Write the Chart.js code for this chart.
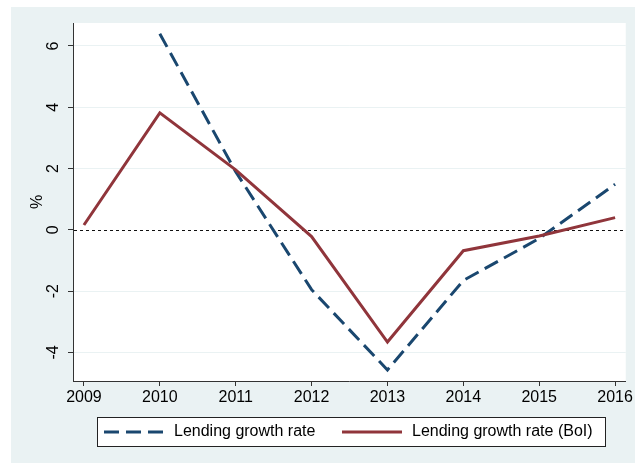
<!DOCTYPE html>
<html>
<head>
<meta charset="utf-8">
<script src="https://cdn.jsdelivr.net/npm/chart.js@4.4.0/dist/chart.umd.min.js"></script>
<style>
  html, body { margin: 0; padding: 0; background: #fff; }
</style>
</head>
<body>
<canvas id="chartLending" width="635" height="463"></canvas>
<script>
var anos = [2009, 2010, 2011, 2012, 2013, 2014, 2015, 2016];
var lendingGrowth = [null, 6.4, 1.9, -1.95, -4.57, -1.65, -0.28, 1.49];
var lendingGrowthBoI = [0.16, 3.82, 1.96, -0.22, -3.66, -0.68, -0.2, 0.4];
var nomesSeries = ['Lending growth rate', 'Lending growth rate (BoI)'];
var tituloY = '%';
var linhaReferencia = 0;

var fonte = '"Liberation Sans", Arial, sans-serif';
var azul = '#1a476f';
var vermelho = '#90353b';

function pontos(valores) {
    var lista = [];
    for (let i = 0; i < anos.length; i++) {
        lista.push({ x: anos[i], y: valores[i] });
    }
    return lista;
}

// fundo cinza, area branca, linha do zero, labels do eixo y giradas e legenda com moldura
var estiloStata = {
    id: 'estiloStata',
    beforeDraw: function (chart) {
        var ctx = chart.ctx;
        var a = chart.chartArea;
        ctx.save();
        ctx.fillStyle = '#eaf2f3';
        ctx.fillRect(11, 7, chart.width - 11, chart.height - 7);
        ctx.fillStyle = '#ffffff';
        ctx.fillRect(a.left, a.top, a.right - a.left, a.bottom - a.top);
        ctx.restore();
    },
    beforeDatasetsDraw: function (chart) {
        var ctx = chart.ctx;
        var a = chart.chartArea;
        var py = Math.round(chart.scales.y.getPixelForValue(linhaReferencia)) + 0.5;
        ctx.save();
        ctx.strokeStyle = '#111';
        ctx.lineWidth = 1;
        ctx.setLineDash([3, 3]);
        ctx.beginPath();
        ctx.moveTo(a.left + 1, py);
        ctx.lineTo(a.right, py);
        ctx.stroke();
        ctx.restore();
    },
    afterDraw: function (chart) {
        var ctx = chart.ctx;
        var escalaY = chart.scales.y;
        ctx.save();
        ctx.font = '16px ' + fonte;
        ctx.fillStyle = '#000';
        ctx.textAlign = 'center';
        ctx.textBaseline = 'middle';
        escalaY.ticks.forEach(function (t) {
            var py = escalaY.getPixelForValue(t.value);
            ctx.save();
            ctx.translate(54, py);
            ctx.rotate(-Math.PI / 2);
            ctx.fillText(t.label, 0, 0);
            ctx.restore();
        });

        // legenda
        ctx.fillStyle = '#fff';
        ctx.fillRect(97, 417, 508, 30);
        ctx.strokeStyle = '#222';
        ctx.lineWidth = 1;
        ctx.strokeRect(97.5, 417.5, 508, 29);

        var cores = [azul, vermelho];
        var tracos = [[15, 7], []];
        var inicio = [104, 342];
        ctx.lineWidth = 3;
        ctx.textAlign = 'left';
        for (let i = 0; i < nomesSeries.length; i++) {
            ctx.strokeStyle = cores[i];
            ctx.setLineDash(tracos[i]);
            ctx.beginPath();
            ctx.moveTo(inicio[i], 432);
            ctx.lineTo(inicio[i] + 60, 432);
            ctx.stroke();
            ctx.setLineDash([]);
            ctx.fillStyle = '#000';
            ctx.fillText(nomesSeries[i], inicio[i] + 70, 432);
        }
        ctx.restore();
    }
};

new Chart(document.getElementById('chartLending'), {
    type: 'line',
    data: {
        datasets: [{
            label: nomesSeries[0],
            data: pontos(lendingGrowth),
            borderColor: azul,
            borderWidth: 3,
            borderDash: [15, 7],
            pointRadius: 0,
            tension: 0,
            fill: false,
            order: 1
        }, {
            label: nomesSeries[1],
            data: pontos(lendingGrowthBoI),
            borderColor: vermelho,
            borderWidth: 3,
            pointRadius: 0,
            tension: 0,
            fill: false,
            order: 0
        }]
    },
    options: {
        responsive: false,
        animation: false,
        devicePixelRatio: 1,
        layout: {
            padding: { top: 23, right: 5, bottom: 0, left: 0 }
        },
        plugins: {
            legend: { display: false },
            tooltip: { enabled: false }
        },
        scales: {
            x: {
                type: 'linear',
                min: 2008.856,
                max: 2016.14,
                afterFit: function (s) { s.height = 82; },
                ticks: {
                    stepSize: 1,
                    includeBounds: false,
                    autoSkip: false,
                    maxRotation: 0,
                    padding: 2,
                    color: '#000',
                    font: { family: fonte, size: 16 },
                    callback: function (v) { return String(v); }
                },
                grid: {
                    drawOnChartArea: false,
                    tickLength: 5,
                    tickColor: '#333'
                },
                border: { color: '#333', width: 1 }
            },
            y: {
                min: -4.93,
                max: 6.75,
                afterFit: function (s) { s.width = 73; },
                ticks: {
                    stepSize: 2,
                    includeBounds: false,
                    color: 'rgba(0,0,0,0)',
                    font: { family: fonte, size: 16 }
                },
                grid: {
                    color: function (c) { return c.tick && c.tick.value === linhaReferencia ? 'rgba(0,0,0,0)' : '#eaf2f3'; },
                    lineWidth: 1,
                    tickLength: 5,
                    tickColor: '#333'
                },
                border: { color: '#333', width: 1 },
                title: {
                    display: true,
                    text: tituloY,
                    color: '#000',
                    font: { family: fonte, size: 16 },
                    padding: { top: 28, bottom: 0 }
                }
            }
        }
    },
    plugins: [estiloStata]
});
</script>
</body>
</html>
